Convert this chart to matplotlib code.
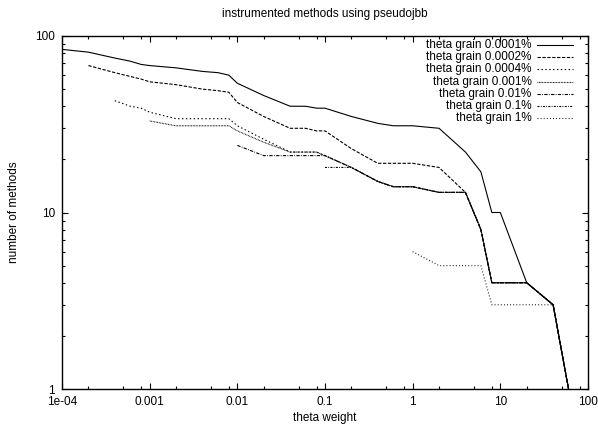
import matplotlib
matplotlib.use("Agg")
import matplotlib.pyplot as plt
from matplotlib.lines import Line2D
from matplotlib.ticker import LogLocator, FixedLocator, NullFormatter

plt.rcParams['font.family'] = ['Liberation Sans', 'DejaVu Sans']

title = "instrumented methods using pseudojbb"
xlabel = "theta weight"
ylabel = "number of methods"

labels = ["theta grain 0.0001%", "theta grain 0.0002%", "theta grain 0.0004%",
          "theta grain 0.001%", "theta grain 0.01%", "theta grain 0.1%", "theta grain 1%"]

x_0001 = [1e-4, 2e-4, 4e-4, 6e-4, 8e-4, 1e-3, 2e-3, 4e-3, 6e-3, 8e-3, 0.01, 0.02, 0.04, 0.06, 0.08,
          0.1, 0.2, 0.4, 0.6, 0.8, 1, 2, 4, 6, 8, 10, 20, 40, 60]
y_0001 = [84, 81, 75, 72, 69, 68, 66, 63, 62, 60, 54, 46, 40, 40, 39,
          39, 35, 32, 31, 31, 31, 30, 22, 17, 10, 10, 4, 3, 1]

x_0002 = [2e-4, 4e-4, 6e-4, 8e-4, 1e-3, 2e-3, 4e-3, 6e-3, 8e-3, 0.01, 0.02, 0.04, 0.06, 0.08,
          0.1, 0.2, 0.4, 0.6, 0.8, 1, 2, 4, 6, 8, 10, 20, 40, 60]
y_0002 = [68, 62, 59, 57, 55, 53, 50, 49, 48, 42, 35, 30, 30, 29,
          29, 23, 19, 19, 19, 19, 18, 13, 8, 4, 4, 4, 3, 1]

x_0004 = [4e-4, 6e-4, 8e-4, 1e-3, 2e-3, 4e-3, 6e-3, 8e-3, 0.01, 0.02, 0.04, 0.06, 0.08,
          0.1, 0.2, 0.4, 0.6, 0.8, 1, 2, 4, 6, 8, 10, 20, 40, 60]
y_0004 = [43, 40, 39, 37, 34, 34, 34, 34, 31, 26, 22, 22, 22,
          21, 18, 15, 14, 14, 14, 13, 13, 8, 4, 4, 4, 3, 1]

x_001 = [1e-3, 2e-3, 4e-3, 6e-3, 8e-3, 0.01, 0.02, 0.04, 0.06, 0.08,
         0.1, 0.2, 0.4, 0.6, 0.8, 1, 2, 4, 6, 8, 10, 20, 40, 60]
y_001 = [33, 31, 31, 31, 31, 29, 25, 22, 22, 22,
         21, 18, 15, 14, 14, 14, 13, 13, 8, 4, 4, 4, 3, 1]

x_01 = [0.01, 0.02, 0.04, 0.06, 0.08, 0.1, 0.2, 0.4, 0.6, 0.8, 1, 2, 4, 6, 8, 10, 20, 40, 60]
y_01 = [24, 21, 21, 21, 21, 21, 18, 15, 14, 14, 14, 13, 13, 8, 4, 4, 4, 3, 1]

x_1 = [0.1, 0.2, 0.4, 0.6, 0.8, 1, 2, 4, 6, 8, 10, 20, 40, 60]
y_1 = [18, 18, 15, 14, 14, 14, 13, 13, 8, 4, 4, 4, 3, 1]

x_10 = [1, 2, 4, 6, 8, 10, 20, 40, 60]
y_10 = [6, 5, 5, 5, 3, 3, 3, 3, 1]

xs = [x_0001, x_0002, x_0004, x_001, x_01, x_1, x_10]
ys = [y_0001, y_0002, y_0004, y_001, y_01, y_1, y_10]

dash_styles = [
    None,
    (0, (3.0, 1.4)),
    (0, (1.3, 2.2)),
    (0, (0.7, 0.7)),
    (0, (3.0, 1.2, 0.7, 1.2)),
    (0, (1.8, 1.2, 0.7, 1.2)),
    (0, (0.8, 2.0)),
]

xticks = [1e-4, 1e-3, 1e-2, 1e-1, 1, 10, 100]
xticklabels = ["1e-04", "0.001", "0.01", "0.1", "1", "10", "100"]
yticks = [1, 10, 100]
yticklabels = ["1", "10", "100"]

fs = 8.5

fig = plt.figure(figsize=(5.98, 4.26), dpi=100)
ax = fig.add_axes([62/598, 37/426, (588-62)/598, (389-36)/426])

lw = 0.8
for x, y, ds in zip(xs, ys, dash_styles):
    if ds is None:
        ax.plot(x, y, color='black', lw=lw, solid_joinstyle='miter')
    else:
        ax.plot(x, y, color='black', lw=lw, linestyle=ds, dash_capstyle='butt')

ax.set_xscale('log')
ax.set_yscale('log')
ax.set_xlim(1e-4, 100)
ax.set_ylim(1, 100)

ax.xaxis.set_major_locator(FixedLocator(xticks))
ax.set_xticklabels(xticklabels)
ax.xaxis.set_minor_locator(LogLocator(base=10, subs=(2, 5, 8), numticks=20))
ax.xaxis.set_minor_formatter(NullFormatter())
ax.yaxis.set_major_locator(FixedLocator(yticks))
ax.set_yticklabels(yticklabels)
ax.yaxis.set_minor_locator(LogLocator(base=10, subs=tuple(range(2, 10)), numticks=20))
ax.yaxis.set_minor_formatter(NullFormatter())

ax.tick_params(which='both', direction='in', top=True, right=True, labelsize=fs, width=0.8)
ax.tick_params(which='major', length=4.5, pad=5)
ax.tick_params(which='minor', length=2.2)
for s in ax.spines.values():
    s.set_linewidth(1.0)

ax.set_title(title, fontsize=fs, pad=14)
ax.set_xlabel(xlabel, fontsize=fs, labelpad=3)
ax.set_ylabel(ylabel, fontsize=fs, labelpad=11)

# gnuplot-style key: right-aligned text, sample line to the right
for i, (lab, ds) in enumerate(zip(labels, dash_styles)):
    ypx = 45 + i * 12.2
    yf = 1 - ypx / 426
    fig.text(531.5 / 598, yf, lab, ha='right', va='center', fontsize=fs)
    kw = dict(color='black', lw=lw, transform=fig.transFigure)
    if ds is not None:
        kw['linestyle'] = ds
    fig.add_artist(Line2D([537 / 598, 573 / 598], [yf, yf], **kw))

fig.savefig("out.png", dpi=100)
